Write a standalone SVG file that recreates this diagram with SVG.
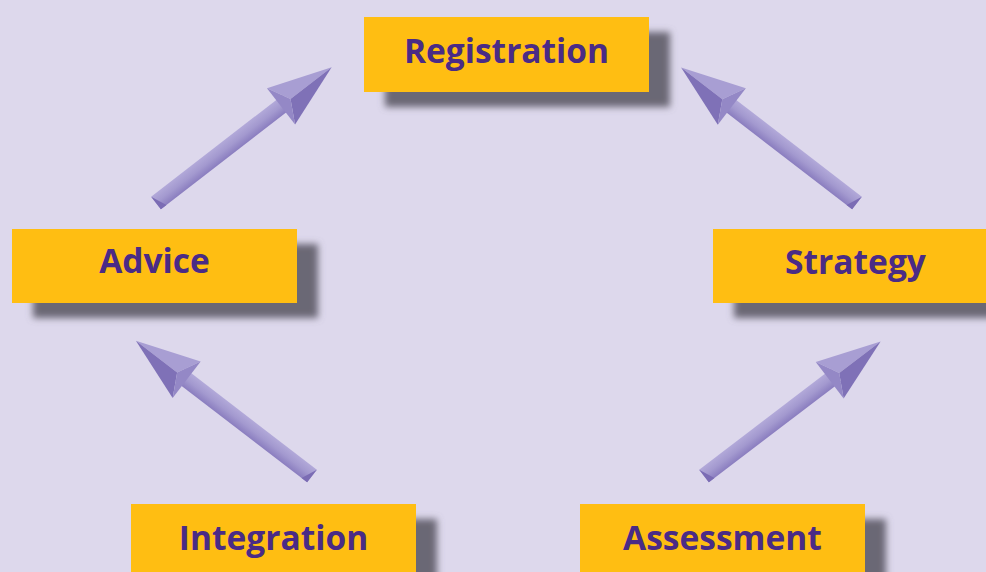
<svg xmlns="http://www.w3.org/2000/svg" xmlns:xlink="http://www.w3.org/1999/xlink" width="986" height="572" viewBox="0 0 986 572">
  <style>
    .box { fill: #FFBE12; }
    .shadow { fill: #6b6774; filter: url(#blur); }
    .label { font-family: "Open Sans", Lato, "Liberation Sans", sans-serif; font-weight: 700; font-size: 33.5px; fill: #4A2B86; text-anchor: middle; }
  </style>
  <defs>
    <filter id="blur" x="-20%" y="-30%" width="140%" height="160%">
      <feGaussianBlur stdDeviation="3.5"/>
    </filter>
    <linearGradient id="shaftGrad" x1="0" y1="0" x2="0" y2="1">
      <stop offset="0" stop-color="#b2a9d9"/>
      <stop offset="0.5" stop-color="#a399cf"/>
      <stop offset="1" stop-color="#8a7dbf"/>
    </linearGradient>
    <g id="arrow">
      <rect x="0" y="-8" width="166" height="16" fill="url(#shaftGrad)"/>
      <polygon points="0,-8 7,8 0,8" fill="#7b6cb4"/>
      <polygon points="158,-23 222,0 170,0" fill="#a89ed3"/>
      <polygon points="170,0 222,0 158,23" fill="#7f71b7"/>
      <polygon points="158,-23 170,0 158,23" fill="#9488c6"/>
    </g>
  </defs>
  <rect x="0" y="0" width="986" height="572" fill="#DDD8EC"/>

  <g id="connectors">
    <use xlink:href="#arrow" transform="translate(156,203) rotate(-37.7)"/>
    <use xlink:href="#arrow" transform="translate(857,203) rotate(-142.4) scale(1,-1)"/>
    <use xlink:href="#arrow" transform="translate(312,476) rotate(-142.5) scale(1,-1)"/>
    <use xlink:href="#arrow" transform="translate(704,476) rotate(-37.3)"/>
  </g>

  <g id="registration">
    <rect class="shadow" x="385" y="32" width="285" height="75"/>
    <rect class="box" x="364" y="17" width="285" height="75"/>
    <text class="label" x="506.5" y="63">Registration</text>
  </g>
  <g id="advice">
    <rect class="shadow" x="33" y="244" width="285" height="74"/>
    <rect class="box" x="12" y="229" width="285" height="74"/>
    <text class="label" x="154.5" y="273">Advice</text>
  </g>
  <g id="strategy">
    <rect class="shadow" x="734" y="244" width="285" height="74"/>
    <rect class="box" x="713" y="229" width="285" height="74"/>
    <text class="label" x="855.5" y="274">Strategy</text>
  </g>
  <g id="integration">
    <rect class="shadow" x="152" y="519" width="285" height="75"/>
    <rect class="box" x="131" y="504" width="285" height="75"/>
    <text class="label" x="273.5" y="550">Integration</text>
  </g>
  <g id="assessment">
    <rect class="shadow" x="601" y="519" width="285" height="75"/>
    <rect class="box" x="580" y="504" width="285" height="75"/>
    <text class="label" x="722.5" y="550">Assessment</text>
  </g>
</svg>
